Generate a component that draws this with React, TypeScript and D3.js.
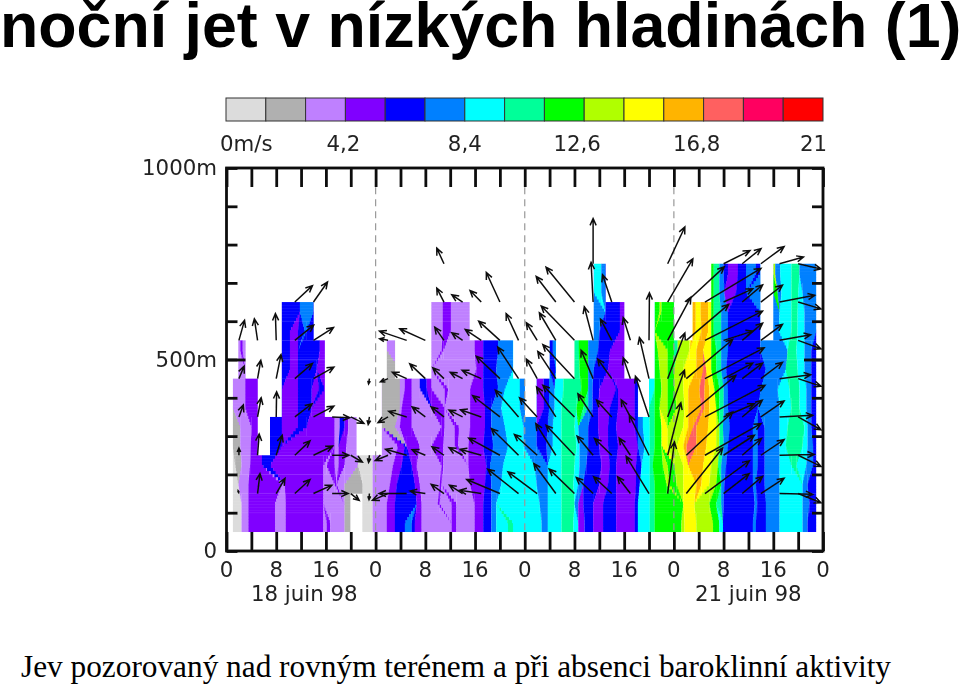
import React, { useRef, useEffect } from "react";
import * as d3 from "d3";

const title = "noční jet v nízkých hladinách (1)";
const subtitle = "Jev pozorovaný nad rovným terénem a při absenci baroklinní aktivity";

// speed classes, 0 to 21 m/s in 15 steps
const classColors = ["#dcdcdc", "#b0b0b0", "#bf80ff", "#8000ff", "#0000ff", "#0080ff", "#00ffff", "#00ff99", "#00ff00", "#b0ff00", "#ffff00", "#ffb400", "#ff6060", "#ff0060", "#ff0000"];
const legendTicks = [4.2, 8.4, 12.6, 16.8];
const legendTickLabels = ["4,2", "8,4", "12,6", "16,8"];
const legendNudge = [-2, 0, -7, -7];
const hourTicks = d3.range(0, 97, 4);
const hourLabelTicks = d3.range(0, 97, 8);
const heightTicks = d3.range(0, 1001, 100);
const dayLines = [24, 48, 72];

// each band: flat list of (end hour, speed class), scanned from hour 1; -1 = no data
const band050 = [2.4,0, 3.5,2, 7.8,3, 9.5,2, 15.6,3, 16.1,2, 16.7,3, 19,2, 19.9,1, 21.9,-1, 23.5,0, 25.8,2, 27.1,3, 28.7,4, 29.8,5, 30.3,4, 31.4,3, 36.2,2, 37,3, 39.9,2, 41.3,3, 42.6,4, 43.4,5, 45.3,6, 46.1,7, 50.7,6, 51.7,5, 53.9,6, 55.8,7, 56.6,6, 57.6,3, 59,4, 60.6,3, 62.7,4, 65.7,3, 66.2,4, 68.1,6, 68.9,7, 73.2,8, 73.7,9, 75.6,10, 78.3,9, 79.3,8, 79.9,6, 84.7,4, 85.2,5, 86.8,4, 89,5, 92.7,6, 93.5,5, 94.9,4];
const band100 = [2.4,0, 3.5,2, 7.8,3, 9.5,2, 15.6,3, 19,2, 19.9,1, 21.9,-1, 23.5,0, 25.8,2, 27.1,3, 30.6,4, 31.4,3, 34,2, 34.3,3, 36.2,2, 37,3, 39.9,2, 41.3,3, 42.6,4, 43.4,5, 50.4,6, 51.7,5, 53.9,6, 56,7, 56.6,5, 57.4,3, 59,4, 60.6,3, 62.7,4, 65.7,3, 66.2,4, 68.1,6, 68.9,7, 73.5,8, 75.3,10, 77.7,9, 78.8,8, 79.6,7, 80,5, 85,4, 85.4,5, 86.8,4, 89,5, 92.7,6, 93.8,5, 94.9,4];
const band150 = [1.9,0, 3.5,2, 8.9,3, 9.4,2, 15.6,3, 17.4,2, 17.7,3, 19,2, 21.9,1, 23.5,0, 26.3,2, 27.4,3, 30.3,4, 31.1,3, 34.3,2, 34.6,3, 39.2,2, 41.6,3, 42.6,4, 44.2,5, 49.9,6, 51.7,5, 53.9,6, 55.8,7, 56.6,6, 57.4,5, 60,4, 61.4,3, 62.7,4, 65.9,3, 66.5,4, 68.1,6, 68.9,7, 70.8,8, 71.3,9, 72.4,8, 73.5,9, 75.6,10, 76.4,11, 77.7,10, 78.8,9, 79.6,8, 80.1,5, 84.7,4, 85.2,5, 86.6,4, 89,5, 92.7,6, 93.5,5, 94.9,4];
const band200 = [1.4,0, 2.4,1, 3.8,2, 5.7,3, 7,4, 15.6,3, 16.1,2, 17.4,3, 18,2, 19,3, 21.2,2, 23.5,0, 26.8,2, 28.2,3, 29.8,4, 30.6,3, 34.6,2, 34.9,3, 38.9,2, 41.8,3, 42.4,4, 44.5,5, 49.6,6, 51.7,5, 53.9,6, 56,7, 56.8,6, 57.9,5, 60.3,4, 61.7,3, 62.7,4, 65.9,3, 66.8,4, 68.1,6, 68.6,7, 70.2,8, 71,9, 72.1,8, 73.5,9, 74.3,10, 76.7,11, 78,10, 79.1,9, 79.6,7, 80.4,5, 84.7,4, 85.5,5, 86.6,4, 89,5, 90.9,6, 91.7,7, 93.3,6, 94.4,5, 94.9,4];
const band250 = [2.2,1, 3.9,2, 5,3, 7,-1, 8.9,4, 17.4,3, 18,2, 19.3,3, 20.9,2, 25,-1, 27.6,2, 28.7,3, 29,4, 31.1,3, 33,2, 34.9,3, 36.7,2, 37.3,3, 38.9,2, 41.3,3, 42.9,4, 45.3,5, 47.8,6, 49.9,5, 51.5,4, 52.5,5, 53.9,6, 56.3,7, 56.8,6, 58.2,5, 60,4, 61.4,3, 63,4, 66.2,3, 67.3,5, 68.1,6, 68.9,7, 70,8, 71,10, 72.4,9, 73.5,10, 74,11, 75.6,12, 77.2,11, 78.8,10, 79.3,9, 80,7, 80.7,5, 84.7,4, 85.5,5, 86.6,4, 89,5, 90,6, 92.7,7, 93.5,6, 94.4,5, 94.9,4];
const band300 = [2.2,1, 4,2, 5,3, 7,-1, 8.9,4, 11.5,3, 12.9,4, 17.4,3, 18.2,2, 19,4, 19.6,3, 20.9,2, 25,-1, 27.1,1, 27.9,2, 29.8,3, 34.6,2, 35.1,3, 36.7,2, 37.4,3, 39.2,2, 41.6,3, 42.6,4, 44.8,5, 47.8,6, 49.9,5, 51.7,4, 52.5,5, 53.9,6, 56,7, 56.6,6, 58.2,5, 59.8,4, 61.4,3, 62.7,4, 65.7,3, 66.2,4, 67,5, 68.1,6, 68.9,7, 70,8, 71,10, 73.5,9, 74.3,10, 75.1,11, 75.6,12, 77.5,11, 78.8,10, 79.3,9, 79.9,7, 81,5, 84.7,4, 85.5,5, 86.6,4, 89,5, 90.3,6, 93,7, 93.5,6, 94.1,5, 94.9,4];
const band350 = [3,2, 5,3, 8.9,-1, 11.5,3, 13.7,4, 15.8,3, 25,-1, 27.9,1, 28.2,2, 29.8,3, 33,2, 35.1,3, 39.2,2, 41.6,3, 42.6,4, 44.2,5, 47.2,6, 48,5, 49.9,-1, 51.1,3, 51.9,4, 52.8,5, 53.9,6, 56.3,7, 57.4,8, 58.2,7, 58.9,5, 59.8,4, 61.7,3, 63,4, 65.7,3, 66.2,4, 68,-1, 68.9,7, 69.7,8, 71,9, 72.4,8, 73.7,9, 74.3,10, 76.4,11, 76.9,12, 77.7,11, 78.8,10, 79.3,8, 80,7, 80.7,5, 85.5,4, 89,5, 90.9,6, 92.2,7, 93.3,6, 94.1,5, 94.9,4];
const band400 = [3,2, 5,3, 8.9,-1, 11.5,3, 13.7,4, 14.9,3, 15.8,4, 25,-1, 27.9,1, 28.7,2, 29.8,3, 31.1,2, 32.2,4, 33,3, 35.1,2, 35.7,3, 39.2,2, 41.3,3, 43.7,4, 44.8,5, 47.2,6, 48,5, 49.9,-1, 51,3, 51.9,4, 52.8,5, 54.2,6, 57.1,7, 58.2,8, 58.9,5, 60,4, 62.7,3, 63,4, 65.7,3, 66.2,4, 68,-1, 68.9,6, 70,8, 71,9, 72.1,8, 73.5,9, 74.3,10, 76.1,11, 76.9,12, 77.7,11, 78.5,10, 79.3,8, 80,7, 80.7,5, 86,4, 88.7,5, 90.6,6, 92.2,7, 93.3,6, 94.1,5, 94.9,4];
const band450 = [1.9,-1, 3,2, 8.9,-1, 10.2,4, 11.5,3, 14.5,4, 15.8,3, 25.8,-1, 27.1,1, 33,-1, 40.2,2, 41.3,3, 43.4,4, 46.1,5, 52,-1, 53,4, 56,-1, 56.8,7, 58.2,8, 59.1,5, 61.4,4, 64,3, 68.9,-1, 69.7,8, 71,9, 72,8, 73.5,9, 75.6,10, 76.7,11, 77.2,12, 78,10, 78.8,8, 79.6,7, 80.4,5, 86.8,4, 90,5, 91.9,7, 93,6, 94.1,5, 94.9,4];
const band500 = [1.9,-1, 2.2,2, 2.6,3, 3,2, 8.9,-1, 10.2,4, 11.5,3, 15,4, 15.8,3, 25.8,-1, 27.1,2, 33,-1, 34.6,2, 34.9,3, 39.9,2, 41.3,3, 43.7,4, 46.1,5, 52,-1, 52.5,4, 53,5, 56,-1, 56.7,7, 58.2,8, 59.8,5, 61.7,4, 64,3, 68.9,-1, 69.4,8, 71,9, 72,8, 72.6,7, 74.5,9, 75.6,10, 76.7,11, 78,10, 78.8,8, 79.6,7, 80.7,5, 85.9,4, 90.3,5, 91.7,7, 93,6, 94.1,5, 94.9,4];
const band550 = [8.9,-1, 10.2,4, 11.5,3, 12.6,4, 12.9,5, 14,4, 33,-1, 34.8,2, 36.1,3, 39.1,2, 59.1,-1, 60,5, 63.3,4, 64,3, 68.9,-1, 72,8, 75,-1, 75.5,11, 76.4,10, 77.5,11, 78,10, 78.4,8, 79.6,7, 80.7,5, 85.9,4, 88,-1, 88.9,5, 90.9,6, 91.9,7, 93,6, 94.9,5];
const band600 = [8.9,-1, 11.8,4, 14,5, 33,-1, 34.8,2, 36.1,3, 39.1,2, 59.1,-1, 61,5, 63.3,4, 64,3, 68.9,-1, 69.7,8, 70,9, 72,8, 75,-1, 75.5,11, 76.3,10, 77.5,11, 78,10, 78.4,8, 79.6,7, 80.7,5, 85.9,4, 88,-1, 89,5, 90.9,6, 91.9,7, 93,6, 94.9,5];
const band650 = [59.1,-1, 60.3,6, 61,5, 78,-1, 78.4,8, 79.3,7, 80.1,5, 82,3, 83.6,4, 85.9,5, 88,-1, 88.7,8, 89.3,5, 90.9,6, 92,7, 92.7,6, 94.9,5];
const band700 = [59.1,-1, 60.3,6, 61,5, 78,-1, 78.4,8, 79.3,7, 80,5, 80.7,4, 82.3,3, 83.6,4, 85.2,5, 85.9,4, 88,-1, 88.3,9, 89.1,5, 90.9,6, 92.2,7, 94.9,5];

const bands: [number, number[]][] = [
  [50, band050], [100, band100], [150, band150], [200, band200], [250, band250],
  [300, band300], [350, band350], [400, band400], [450, band450], [500, band500],
  [550, band550], [600, band600], [650, band650], [700, band700],
];
const firstHour = 1;
const bandHeight = 50;
const sliceHeight = 8; // metres, the stair step of the contour edges

// wind vectors: [hour, u, v] in m/s, per height level
const wind150 = [[2,-0.2,0.7],[5,0.6,5],[8,2.2,3.8],[11,3.8,3.5],[14,4.6,2.1],[17,4,0],[20,2.1,-1.7],[23,-0.1,-1.5],[26,-3.9,-1.7],[29,-6.9,0],[32,-3.8,0.6],[35,-3.2,2.3],[38,-3.3,2.1],[41,-5.4,0.8],[44,-8.3,3.5],[47,-7.7,6.1],[50,-7.3,5.4],[53,-5.5,7.5],[56,-6.3,6.1],[59,-4.2,4],[62,-4.5,4.2],[65,-3.2,4.2],[68,-5.7,9.3],[71,1.7,12.9],[74,9.1,11.4],[77,11.1,8.2],[80,6.4,5],[83,5.1,4.3],[86,5.8,3.8],[89,8.3,-0.2],[92,5.7,-2.3]];
const wind250 = [[2,0,1.8],[5,0.4,5.3],[8,1.5,5],[11,3.8,3.6],[14,4.8,2.3],[17,4.2,0],[20,2.9,-1.7],[23,-0.2,-1.8],[26,-3.2,-1.3],[29,-5.3,1.5],[32,-3.3,1.4],[35,-3,2.1],[38,-3.4,1.9],[41,-5.3,1.5],[44,-7.8,4.3],[47,-6.8,6.7],[50,-5.7,5.2],[53,-5,7.9],[56,-7.1,7.5],[59,-4,4.8],[62,-4.3,4.2],[65,-2.8,4.3],[68,-4.9,10],[71,3.3,13.1],[74,11.6,10.8],[77,14,7.9],[80,7.7,5],[83,4.8,4.2],[86,5.8,3.9],[89,8.7,0.2],[92,5.7,-2.8]];
const wind350 = [[2,1.1,3],[5,0.9,4.8],[8,0.1,6.3],[11,4.3,3.3],[14,5.1,2.7],[17,4.4,-0.2],[20,3.3,-1.6],[23,-0.3,-1.9],[26,-2.5,-1.4],[29,-4.5,1.4],[32,-3.3,2.5],[35,-3.2,2.5],[38,-3.4,1.7],[41,-5.2,1.8],[44,-6.8,5.3],[47,-5.8,6.7],[50,-4.4,4.8],[53,-4.8,7.5],[56,-7.9,7.9],[59,-3.8,5.8],[62,-3.8,4.2],[65,-2.3,4.3],[68,-3.4,10.2],[71,4.2,11.7],[74,12.4,10.4],[77,15,7.9],[80,7.7,3.3],[83,5,4.2],[86,5.8,4],[89,8.3,0.4],[92,5.7,-3.2]];
const wind450 = [[2,1.3,3.1],[5,0.8,4.6],[8,1.2,6],[11,4.4,3.8],[14,5.1,2.9],[23,-0.2,-1.3],[26,-1.9,-0.8],[29,-3.6,1.6],[32,-3.9,3.7],[35,-2.8,2.7],[38,-3.1,1.6],[41,-4.8,2.1],[44,-5.9,5.6],[47,-5.2,7.9],[50,-2.7,4.9],[53,-4.5,6.8],[56,-7.9,8.5],[59,-3,7.1],[62,-3.5,4.9],[65,-1.8,5.2],[68,-2.4,10.3],[71,4.3,11.4],[74,11.6,9.8],[77,14.8,7.7],[80,7.3,3.9],[83,5.1,3.9],[86,5.4,4.1],[89,7.8,1],[92,5.7,-1.9]];
const wind550 = [[2,1.4,5],[5,-0.8,5.4],[8,-0.2,6.7],[11,4.7,3.8],[14,5,3.2],[26,-2.1,0.4],[29,-6.8,2.3],[32,-6.4,2.9],[35,-2.3,3.3],[38,-2.7,1.9],[41,-4,2.7],[44,-5.3,4.8],[47,-3.1,6.7],[50,-2.7,4.4],[53,-4.1,6.9],[56,-8.3,8.6],[59,-2.2,8.4],[62,-2.8,5.3],[65,-1.8,5.7],[68,0.1,11.9],[71,5.8,10.8],[74,10.6,9],[77,14.4,7.3],[80,7.3,2.3],[83,5.1,4.3],[86,5.4,4],[89,7.8,1.4],[92,5.7,-2.1]];
const wind650 = [[11,4.4,4.1],[14,3.5,5],[35,-1.8,3.5],[38,-2.7,1.8],[41,-2.8,2.9],[44,-3.4,7.4],[53,-4.9,6.4],[56,-7.1,8.7],[59,-0.5,9.9],[62,-2.3,6.8],[71,6.3,10.8],[74,9.5,8.8],[77,14,8.4],[80,7.3,3.3],[83,5.1,4.3],[86,5.4,4.2],[89,8.8,1.7],[92,5.7,-1.7]];
const wind750 = [[35,-1.8,3.9],[59,0,11.3],[71,4.3,9.2],[80,6.6,3.3],[83,4.7,3.8],[86,5.8,4.3],[89,6,1.7],[92,5.7,-1.3]];

const winds: [number, number[][]][] = [
  [150, wind150], [250, wind250], [350, wind350], [450, wind450], [550, wind550], [650, wind650], [750, wind750],
];
const pxPerMs = 4;
const headLen = 7.5;

type Run = { from: number; to: number; cls: number };
type Track = { cls: number; a: [number, number]; b: [number, number] };

// list of runs for one band, no-data runs kept
const toRuns = (flat: number[]): Run[] => {
  const out: Run[] = [];
  let from = firstHour;
  for (let i = 0; i < flat.length; i += 2) {
    out.push({ from, to: flat[i], cls: flat[i + 1] });
    from = flat[i];
  }
  return out;
};

// no-data gaps take the band below, so edges do not lean toward the empty gates
const fillFromBelow = (runs: Run[], below: Run[] | null): Run[] => {
  if (!below) return runs;
  return runs.flatMap(r => {
    if (r.cls >= 0) return [r];
    const parts = below
      .filter(b => b.to > r.from && b.from < r.to)
      .map(b => ({ from: Math.max(b.from, r.from), to: Math.min(b.to, r.to), cls: b.cls }));
    const last = below[below.length - 1].to;
    if (r.to > last) parts.push({ from: last, to: r.to, cls: -1 });
    return parts;
  });
};

// what is still empty is closed by the neighbour run, the gaps are cut back out by the clip
const closeGaps = (runs: Run[]): Run[] => {
  const out: Run[] = [];
  runs.forEach(r => {
    if (r.cls < 0) {
      if (out.length) out[out.length - 1].to = r.to;
    } else if (out.length && out[out.length - 1].cls === r.cls) {
      out[out.length - 1].to = r.to;
    } else {
      out.push({ ...r, from: out.length ? out[out.length - 1].to : firstHour });
    }
  });
  return out;
};

// pair the runs of two neighbouring scan lines so the contour edges lean between them
const alignRuns = (A: Run[], B: Run[]): Track[] => {
  const n = A.length;
  const m = B.length;
  const score = d3.range(n + 1).map(() => new Array(m + 1).fill(0));
  const gain = (a: Run, b: Run) => {
    if (a.cls !== b.cls) return -1;
    const dist = Math.abs((a.from + a.to) / 2 - (b.from + b.to) / 2);
    if (dist > 9) return -1;
    return (0.5 + Math.min(a.to - a.from, b.to - b.from) / 3) * (1 - dist / 10);
  };
  for (let i = n - 1; i >= 0; i--) {
    for (let j = m - 1; j >= 0; j--) {
      const g = gain(A[i], B[j]);
      score[i][j] = Math.max(score[i + 1][j], score[i][j + 1], g >= 0 ? g + score[i + 1][j + 1] : -1);
    }
  }
  const tracks: Track[] = [];
  let i = 0;
  let j = 0;
  let curA = firstHour;
  let curB = firstHour;
  while (i < n || j < m) {
    const g = i < n && j < m ? gain(A[i], B[j]) : -1;
    if (g >= 0 && score[i][j] === g + score[i + 1][j + 1]) {
      tracks.push({ cls: A[i].cls, a: [A[i].from, A[i].to], b: [B[j].from, B[j].to] });
      curA = A[i].to;
      curB = B[j].to;
      i++;
      j++;
    } else if (i < n && (j >= m || score[i][j] === score[i + 1][j])) {
      tracks.push({ cls: A[i].cls, a: [A[i].from, A[i].to], b: [curB, curB] });
      curA = A[i].to;
      i++;
    } else {
      tracks.push({ cls: B[j].cls, a: [curA, curA], b: [B[j].from, B[j].to] });
      curB = B[j].to;
      j++;
    }
  }
  return tracks;
};

const App: React.FC = () => {
  const svg = useRef<SVGSVGElement>(null);

  useEffect(() => {
    const root = d3.select(svg.current);
    root.selectAll("*").remove();

    const x = d3.scaleLinear().domain([0, 96]).range([226.5, 823]);
    const y = d3.scaleLinear().domain([0, 1000]).range([551, 168]);
    const legendX = d3.scaleLinear().domain([0, 21]).range([226, 823]);
    const legendBand = d3.scaleBand<number>().domain(d3.range(classColors.length)).range([226, 823]);

    const defs = root.append("defs");
    defs.append("filter").attr("id", "soft").append("feGaussianBlur").attr("stdDeviation", 0.7);
    defs.append("filter").attr("id", "softLine").append("feGaussianBlur").attr("stdDeviation", 0.35);
    defs.append("clipPath").attr("id", "plot").append("rect")
      .attr("x", x(0)).attr("y", y(1000)).attr("width", x(96) - x(0)).attr("height", y(0) - y(1000));

    // headings
    root.append("text").text(title)
      .attr("x", 0).attr("y", 46.5)
      .attr("font-family", "Liberation Sans").attr("font-weight", "bold").attr("font-size", 62.7);
    root.append("text").text(subtitle)
      .attr("x", 21).attr("y", 677)
      .attr("font-family", "Liberation Serif").attr("font-size", 31.3);

    // legend
    const legend = root.append("g").attr("filter", "url(#softLine)");
    legend.selectAll("rect").data(classColors).join("rect")
      .attr("x", (_, i) => legendBand(i)!)
      .attr("y", 98)
      .attr("width", legendBand.bandwidth())
      .attr("height", 23)
      .attr("fill", d => d)
      .attr("stroke", "#333")
      .attr("stroke-width", 1);

    const labelStyle = (g: d3.Selection<any, any, any, any>) =>
      g.attr("font-family", "DejaVu Sans").attr("font-size", 21.3).attr("fill", "#222");

    const legendLabels = root.append("g").attr("filter", "url(#softLine)").call(labelStyle);
    legendLabels.append("text").text("0m/s").attr("x", legendX(0) - 6).attr("y", 151);
    legendLabels.append("text").text("21").attr("x", legendX(21) + 4).attr("y", 151).attr("text-anchor", "end");
    legendLabels.selectAll("text.tick").data(legendTicks).join("text")
      .attr("class", "tick")
      .text((_, i) => legendTickLabels[i])
      .attr("x", (d, i) => legendX(d) + legendNudge[i])
      .attr("y", 151)
      .attr("text-anchor", "middle");

    // speed field: scan lines sit at band centres, edges lean between them in thin slices
    let below: Run[] | null = null;
    const filled = bands.map(([, flat]) => {
      const runs = fillFromBelow(toRuns(flat), below);
      below = runs;
      return runs;
    });
    const scans = bands.map(([bottom], i) => ({ level: bottom + bandHeight / 2, runs: closeGaps(filled[i]) }));
    const pairs = d3.pairs(scans).map(([p, q]) => ({ lo: p.level, hi: q.level, tracks: alignRuns(p.runs, q.runs) }));
    const slices = d3.range(bands[0][0], bands[bands.length - 1][0] + bandHeight, sliceHeight).flatMap(bottom => {
      const mid = bottom + sliceHeight / 2;
      const pair = pairs.find(p => mid <= p.hi) ?? pairs[pairs.length - 1];
      const t = Math.max(0, Math.min(1, (mid - pair.lo) / (pair.hi - pair.lo)));
      return pair.tracks.map(k => ({
        bottom,
        cls: k.cls,
        from: k.a[0] + (k.b[0] - k.a[0]) * t,
        to: k.a[1] + (k.b[1] - k.a[1]) * t,
      }));
    });

    // gate outline: only where a band has data
    const coverage = bands.flatMap(([bottom, flat]) =>
      toRuns(flat).filter(r => r.cls >= 0).map(r => ({ ...r, bottom }))
    );
    defs.append("clipPath").attr("id", "gates")
      .selectAll("rect").data(coverage).join("rect")
      .attr("x", d => x(d.from))
      .attr("y", d => y(d.bottom + bandHeight))
      .attr("width", d => x(d.to) - x(d.from) + 0.2)
      .attr("height", d => y(d.bottom) - y(d.bottom + bandHeight) + 0.2);

    root.append("g").attr("filter", "url(#soft)")
      .append("g").attr("clip-path", "url(#gates)")
      .selectAll("rect").data(slices.filter(d => d.to > d.from)).join("rect")
      .attr("x", d => x(d.from))
      .attr("y", d => y(d.bottom + sliceHeight))
      .attr("width", d => x(d.to) - x(d.from) + 0.3)
      .attr("height", d => y(d.bottom) - y(d.bottom + sliceHeight) + 0.5)
      .attr("fill", d => classColors[d.cls]);

    // midnight separators
    root.append("g").selectAll("line").data(dayLines).join("line")
      .attr("x1", d => x(d)).attr("x2", d => x(d))
      .attr("y1", y(950)).attr("y2", y(0))
      .attr("stroke", "#999").attr("stroke-width", 1.2).attr("stroke-dasharray", "7 5");

    // wind arrows
    const arrows = winds.flatMap(([level, rows]) =>
      rows.map(([hour, u, v]) => ({ x0: x(hour), y0: y(level), dx: u * pxPerMs, dy: -v * pxPerMs }))
    );
    const arrowPath = (d: { x0: number; y0: number; dx: number; dy: number }) => {
      const p = d3.path();
      const x1 = d.x0 + d.dx;
      const y1 = d.y0 + d.dy;
      const ang = Math.atan2(d.dy, d.dx);
      const len = Math.hypot(d.dx, d.dy);
      const h = Math.min(headLen, len * 0.6);
      p.moveTo(d.x0, d.y0);
      p.lineTo(x1, y1);
      p.moveTo(x1 - h * Math.cos(ang - 0.42), y1 - h * Math.sin(ang - 0.42));
      p.lineTo(x1, y1);
      p.lineTo(x1 - h * Math.cos(ang + 0.42), y1 - h * Math.sin(ang + 0.42));
      return p.toString();
    };
    root.append("g").attr("clip-path", "url(#plot)").attr("filter", "url(#softLine)")
      .selectAll("path").data(arrows).join("path")
      .attr("d", arrowPath)
      .attr("fill", "none")
      .attr("stroke", "#111")
      .attr("stroke-width", 1.5);

    // frame and ticks
    const axes = root.append("g").attr("filter", "url(#softLine)");
    const tickStyle = (g: d3.Selection<any, any, any, any>) => {
      g.select(".domain").remove();
      g.selectAll(".tick line").attr("stroke", "#111").attr("stroke-width", 2.8);
    };
    axes.append("g").attr("transform", `translate(0,${y(1000)})`)
      .call(d3.axisTop(x).tickValues(hourTicks).tickSize(-19).tickFormat(() => ""))
      .call(tickStyle);
    axes.append("g").attr("transform", `translate(0,${y(0)})`)
      .call(d3.axisBottom(x).tickValues(hourTicks).tickSize(-19).tickFormat(() => ""))
      .call(tickStyle);
    axes.append("g").attr("transform", `translate(${x(0)},0)`)
      .call(d3.axisLeft(y).tickValues(heightTicks).tickSize(-11).tickFormat(() => ""))
      .call(tickStyle);
    axes.append("g").attr("transform", `translate(${x(96)},0)`)
      .call(d3.axisRight(y).tickValues(heightTicks).tickSize(-11).tickFormat(() => ""))
      .call(tickStyle);
    axes.append("g").attr("transform", `translate(${x(0)},0)`)
      .call(d3.axisLeft(y).tickValues([500]).tickSize(-19).tickFormat(() => ""))
      .call(tickStyle);
    axes.append("g").attr("transform", `translate(${x(96)},0)`)
      .call(d3.axisRight(y).tickValues([500]).tickSize(-19).tickFormat(() => ""))
      .call(tickStyle);
    axes.append("rect")
      .attr("x", x(0)).attr("y", y(1000))
      .attr("width", x(96) - x(0)).attr("height", y(0) - y(1000))
      .attr("fill", "none").attr("stroke", "#111").attr("stroke-width", 2.8);

    // axis labels
    const labels = root.append("g").attr("filter", "url(#softLine)").call(labelStyle);
    labels.selectAll("text.hour").data(hourLabelTicks).join("text")
      .attr("class", "hour")
      .text(d => d % 24)
      .attr("x", d => x(d))
      .attr("y", 577)
      .attr("text-anchor", "middle");
    labels.selectAll("text.height").data([0, 500, 1000]).join("text")
      .attr("class", "height")
      .text(d => (d === 0 ? "0" : d + "m"))
      .attr("x", 217)
      .attr("y", d => y(d) + 7)
      .attr("text-anchor", "end");
    labels.append("text").text("18 juin 98").attr("x", 251).attr("y", 601);
    labels.append("text").text("21 juin 98").attr("x", 695).attr("y", 601);
  }, []);

  return <svg ref={svg} width={960} height={685} style={{ position: "absolute", left: 0, top: 0, background: "#fff" }} />;
};

export default App;
